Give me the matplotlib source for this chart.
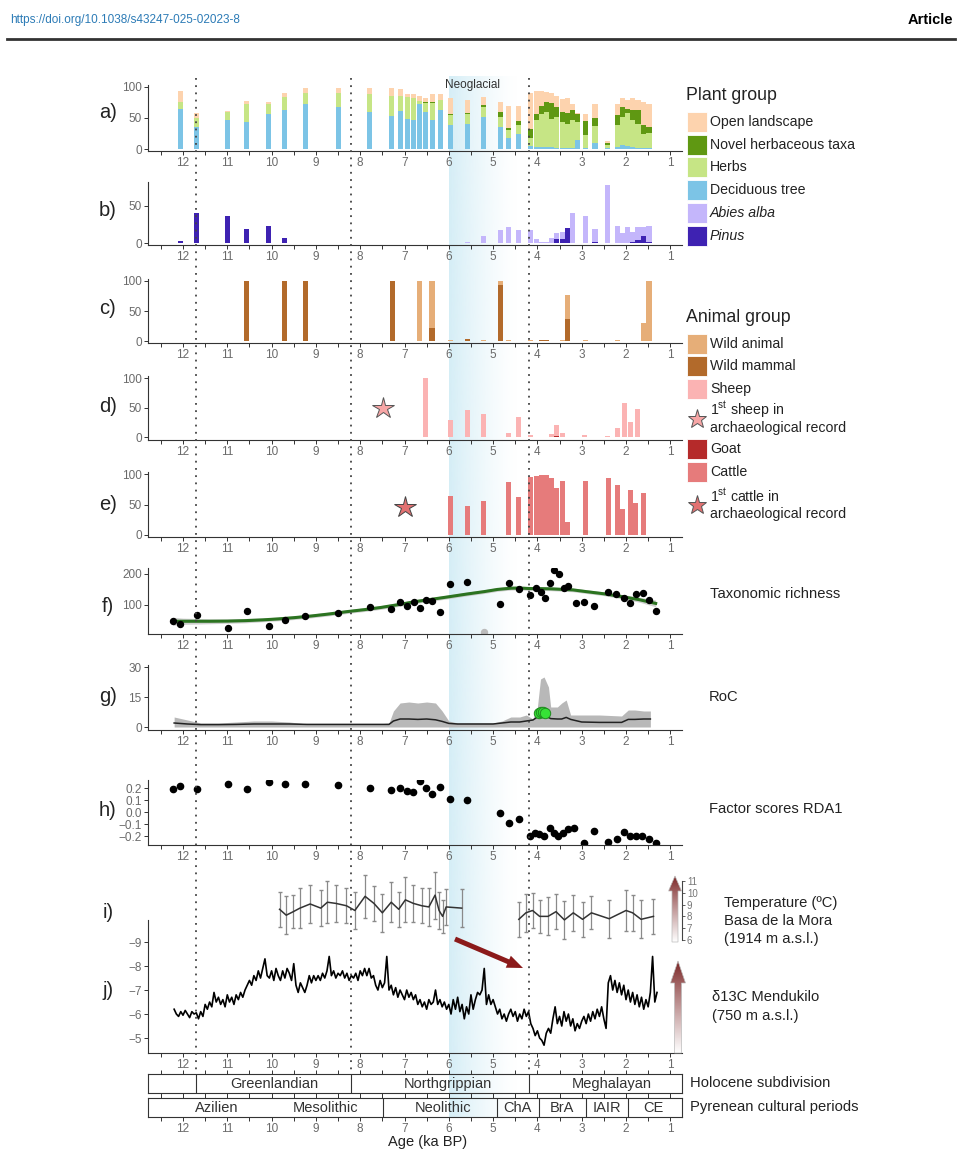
import numpy as np
import matplotlib
matplotlib.use("Agg")
import matplotlib.pyplot as plt
from matplotlib.patches import Rectangle, Polygon, FancyArrow
from matplotlib.colors import to_rgb

plt.rcParams['font.family'] = ['Liberation Sans', 'DejaVu Sans']
plt.rcParams['mathtext.fontset'] = 'custom'
plt.rcParams['mathtext.rm'] = 'Liberation Sans'

# ---------------- data ----------------
# a) plant groups (% of pollen sum), stacked
a_age = [12.06, 11.69, 10.99, 10.56, 10.06, 9.70, 9.24, 8.50, 7.78, 7.30,
         7.10, 6.94, 6.79, 6.66, 6.52, 6.37, 6.19, 5.97, 5.58, 5.21,
         4.84, 4.65, 4.42, 4.16, 4.03, 3.91, 3.79, 3.68, 3.56, 3.44,
         3.33, 3.21, 3.09, 2.92, 2.70, 2.41, 2.20, 2.08, 1.96, 1.85,
         1.73, 1.61, 1.48]
deciduous = [64, 36, 46, 43.5, 56, 63, 72, 67, 60, 53,
             61, 48, 47, 72, 60, 47, 63, 39, 40, 52,
             36, 18, 24, 5, 4, 4, 3, 3, 2, 2,
             2, 2, 14, 1, 10, 1, 4, 6, 5, 4,
             2, 2, 2]
herbs = [11, 13.5, 14, 28.5, 16, 21, 19, 24, 28, 32.5,
         24.5, 36, 35, 5, 14, 27, 16, 16, 17, 16,
         16, 12, 14.5, 13, 42, 52, 57, 45, 50, 42,
         39, 44, 30, 21, 27, 5, 35, 46, 52.5, 43,
         39, 22, 24]
novel = [0, 0, 0, 0, 0, 0, 0, 0, 0, 0,
         0, 0, 0, 0, 1, 1, 0, 1.5, 0.5, 3,
         7, 4, 7, 15, 11, 13, 15, 26, 16, 16,
         16.5, 17, 12, 23, 12.5, 3, 16, 15, 6.5, 16,
         22, 15, 10]
open_land = [19, 8, 1, 5, 4, 7, 8, 8, 10, 12.5,
             11.5, 5, 7, 8, 8, 13, 9, 26, 21, 13,
             17, 35, 23.5, 58, 37, 25, 17.5, 16, 17.5, 20,
             25.5, 10, 2, 12, 23.5, 4, 18, 16, 15, 19,
             16, 36, 37]

# b) conifers, same samples as a)
pinus = [3, 40, 37, 19, 23, 7, 0, 0, 0, 0,
         0, 0, 0, 0, 0, 0, 0, 0, 0, 0,
         0, 0, 0, 0, 0, 0, 0, 0, 5, 5,
         20, 0, 0, 0, 1, 0, 0, 0, 0, 1,
         4, 10, 2]
abies = [0, 0, 0, 0, 0, 0, 0, 0, 0, 0,
         0, 0, 0, 0, 0, 0, 0, 0, 2, 9,
         17, 21, 17, 17, 5, 2, 1, 7, 9, 10,
         0, 40, 0, 36, 18, 78, 23, 14, 21, 14,
         17, 11, 21]

# c) wild animals
c_age = [10.56, 9.70, 9.24, 7.28, 6.67, 6.38, 5.97, 5.58, 5.21, 4.84,
         4.65, 4.16, 3.91, 3.79, 3.44, 3.33, 2.92, 2.20, 1.61, 1.48]
wild_mammal = [100, 100, 100, 100, 0, 22, 0, 3, 0, 94,
               0, 0, 2, 2, 0, 37, 0, 0, 0, 0]
wild_animal = [0, 0, 0, 0, 100, 78, 2, 0, 1, 6,
               2, 2, 0, 0, 2, 40, 2, 2, 30, 100]

# d) sheep / goat
d_age = [6.52, 5.97, 5.58, 5.21, 4.65, 4.42, 4.16, 4.03, 3.68, 3.56,
         3.44, 2.94, 2.41, 2.20, 2.03, 1.89, 1.75]
sheep = [100, 30, 46, 40, 7, 34, 4.5, 1, 6, 20,
         7, 4.5, 3, 15, 58, 26, 47]
goat = [0, 0, 0, 0, 0, 0, 0, 0, 0, 1.5,
        0, 0, 0, 0, 0, 0, 0]
sheep_first = (7.49, 50)

# e) cattle
e_age = [5.97, 5.58, 5.21, 4.65, 4.42, 4.16, 4.03, 3.91, 3.79, 3.68,
         3.56, 3.44, 3.33, 2.92, 2.40, 2.20, 2.07, 1.89, 1.78, 1.61]
cattle = [64, 47, 56, 87, 63, 95, 97, 98, 99, 93,
          77, 89, 22, 88, 93, 82, 42, 74, 52, 69]
cattle_first = (7.0, 46)

# f) taxonomic richness
f_age = [12.23, 12.06, 11.69, 10.99, 10.56, 10.06, 9.70, 9.24, 8.50, 7.78,
         7.30, 7.10, 6.94, 6.79, 6.66, 6.52, 6.37, 6.19, 5.97, 5.58,
         4.84, 4.65, 4.42, 4.16, 4.04, 3.91, 3.83, 3.72, 3.62, 3.52,
         3.41, 3.30, 3.14, 2.95, 2.72, 2.41, 2.22, 2.04, 1.91, 1.78,
         1.62, 1.48, 1.33]
richness = [48, 39, 68, 27, 82, 33, 50, 66, 75, 95,
            86, 111, 98, 109, 91, 116, 113, 76, 167, 174,
            103, 170, 151, 131, 156, 143, 123, 170, 213, 199,
            156, 162, 105, 108, 98, 143, 136, 122, 105, 136,
            140, 116, 82]
richness_out = (5.21, 12)
smooth_age = [12.23, 12.0, 11.4, 11.0, 10.6, 10.2, 9.86, 9.5, 9.1, 8.7,
              8.3, 7.9, 7.53, 7.1, 6.75, 6.4, 5.97, 5.6, 5.2, 4.9,
              4.6, 4.4, 4.2, 3.7, 3.2, 2.9, 2.5, 2.1, 1.7, 1.33]
smooth_val = [47.5, 47.5, 47.5, 48, 49.5, 52, 55, 59, 64.5, 71,
              78.5, 85, 92, 102, 111, 118, 127, 135, 143, 150,
              154, 154.5, 153, 152, 148.5, 143, 136, 127, 117, 105]
smooth_se = [13, 10, 8, 7, 7, 6, 6, 6, 6, 6,
             6, 6, 6, 6, 6, 6, 6, 6, 6, 6,
             6, 6, 6, 6, 6, 6, 6, 7, 8, 11]

# g) rate of change
roc_age = [12.2, 11.9, 11.6, 11.2, 10.8, 10.4, 10.0, 9.6, 9.2, 8.8,
           8.4, 8.0, 7.6, 7.35, 7.25, 7.1, 6.9, 6.7, 6.5, 6.3,
           6.15, 6.0, 5.8, 5.4, 5.0, 4.8, 4.6, 4.4, 4.25, 4.1,
           4.0, 3.93, 3.85, 3.75, 3.7, 3.55, 3.45, 3.35, 3.25, 3.0,
           2.6, 2.1, 1.95, 1.8, 1.6, 1.45]
roc = [2, 1.5, 1.2, 1.2, 1.3, 1.5, 1.5, 1.5, 1.3, 1.3,
       1.3, 1.3, 1.3, 1.3, 3, 4, 4, 3.8, 4, 3.6,
       2.8, 1.8, 1.5, 1.5, 1.5, 2, 2.5, 2.5, 3, 3.5,
       5, 7.2, 7.2, 4.8, 4.2, 4, 4, 4.8, 3.8, 2.5,
       2.3, 2.3, 3.8, 3.8, 4, 4]
roc_hi = [5, 3.5, 2, 2, 2.5, 3, 3, 2.5, 1.5, 1.5,
          1.5, 1.5, 1.5, 2, 8, 12, 12.5, 12, 12.5, 12,
          8, 3, 2, 2, 2, 3, 5, 5, 6, 4,
          10, 24, 25, 20, 10, 10, 12, 13.5, 6, 6,
          6, 5.5, 8.5, 8.5, 8, 8]
roc_sig_age = [3.96, 3.91, 3.87, 3.83]
roc_sig = [7.0, 7.4, 7.5, 7.2]

# h) RDA1 factor scores
h_age = [12.23, 12.06, 11.69, 10.99, 10.56, 10.06, 9.70, 9.24, 8.50, 7.78,
         7.30, 7.10, 6.94, 6.81, 6.66, 6.52, 6.38, 6.19, 5.97, 5.58,
         4.84, 4.65, 4.42, 4.16, 4.05, 3.96, 3.84, 3.72, 3.62, 3.53,
         3.43, 3.30, 3.17, 2.95, 2.72, 2.41, 2.20, 2.04, 1.91, 1.77,
         1.64, 1.48, 1.33]
rda1 = [0.195, 0.214, 0.19, 0.233, 0.19, 0.247, 0.233, 0.233, 0.225, 0.2,
        0.183, 0.2, 0.178, 0.164, 0.256, 0.2, 0.147, 0.211, 0.108, 0.097,
        -0.008, -0.089, -0.056, -0.2, -0.178, -0.186, -0.197, -0.136, -0.172, -0.197,
        -0.172, -0.142, -0.136, -0.256, -0.158, -0.25, -0.222, -0.17, -0.2, -0.197,
        -0.197, -0.228, -0.256]

# i) temperature Basa de la Mora (two segments)
t_age1 = [9.82, 9.67, 9.51, 9.36, 9.13, 8.89, 8.74, 8.55, 8.31, 8.12,
          7.89, 7.69, 7.50, 7.30, 7.13, 6.98, 6.80, 6.61, 6.45, 6.31,
          6.22, 6.14, 6.06, 5.71]
temp1 = [8.6, 8.1, 8.4, 8.7, 9.05, 8.7, 9.2, 9.1, 8.9, 8.5,
         9.7, 9.1, 8.3, 9.2, 8.6, 9.4, 9.1, 8.9, 8.8, 9.8,
         8.5, 8.0, 8.8, 8.7]
err1 = [1.5, 1.6, 1.4, 1.7, 1.6, 1.5, 1.8, 1.6, 1.5, 1.6,
        1.8, 1.5, 1.6, 1.7, 1.5, 1.9, 1.6, 1.5, 1.6, 2.0,
        1.6, 1.4, 1.5, 1.6]
t_age2 = [4.42, 4.26, 4.11, 3.95, 3.76, 3.58, 3.39, 3.19, 2.98, 2.78,
          2.38, 2.00, 1.85, 1.66, 1.38]
temp2 = [7.75, 8.3, 8.5, 8.0, 8.0, 8.4, 7.7, 8.3, 7.75, 8.3,
         7.8, 8.5, 8.3, 7.75, 8.0]
err2 = [1.5, 1.6, 1.5, 1.4, 1.6, 1.5, 1.6, 1.5, 1.5, 1.4,
        1.6, 1.7, 1.5, 1.6, 1.5]

# j) d13C Mendukilo
j_age = [12.20, 12.15, 12.10, 12.05, 12.00, 11.95, 11.90, 11.85, 11.80, 11.75,
         11.70, 11.65, 11.60, 11.55, 11.50, 11.45, 11.40, 11.35, 11.30, 11.25,
         11.20, 11.15, 11.10, 11.05, 11.00, 10.95, 10.90, 10.85, 10.80, 10.75,
         10.70, 10.65, 10.60, 10.55, 10.50, 10.45, 10.40, 10.35, 10.30, 10.25,
         10.20, 10.15, 10.10, 10.05, 10.00, 9.95, 9.90, 9.85, 9.80, 9.75,
         9.70, 9.65, 9.60, 9.55, 9.50, 9.45, 9.40, 9.35, 9.30, 9.25,
         9.20, 9.15, 9.10, 9.05, 9.00, 8.95, 8.90, 8.85, 8.80, 8.75,
         8.70, 8.65, 8.60, 8.55, 8.50, 8.45, 8.40, 8.35, 8.30, 8.25,
         8.20, 8.15, 8.10, 8.05, 8.00, 7.95, 7.90, 7.85, 7.80, 7.75,
         7.70, 7.65, 7.60, 7.55, 7.50, 7.45, 7.40, 7.35, 7.30, 7.25,
         7.20, 7.15, 7.10, 7.05, 7.00, 6.95, 6.90, 6.85, 6.80, 6.75,
         6.70, 6.65, 6.60, 6.55, 6.50, 6.45, 6.40, 6.35, 6.30, 6.25,
         6.20, 6.15, 6.10, 6.05, 6.00, 5.95, 5.90, 5.85, 5.80, 5.75,
         5.70, 5.65, 5.60, 5.55, 5.50, 5.45, 5.40, 5.35, 5.30, 5.25,
         5.20, 5.15, 5.10, 5.05, 5.00, 4.95, 4.90, 4.85, 4.80, 4.75,
         4.70, 4.65, 4.60, 4.55, 4.50, 4.45, 4.40, 4.35, 4.30, 4.25,
         4.20, 4.15, 4.10, 4.05, 4.00, 3.95, 3.90, 3.85, 3.80, 3.75,
         3.70, 3.65, 3.60, 3.55, 3.50, 3.45, 3.40, 3.35, 3.30, 3.25,
         3.20, 3.15, 3.10, 3.05, 3.00, 2.95, 2.90, 2.85, 2.80, 2.75,
         2.70, 2.65, 2.60, 2.55, 2.50, 2.45, 2.40, 2.35, 2.30, 2.25,
         2.20, 2.15, 2.10, 2.05, 2.00, 1.95, 1.90, 1.85, 1.80, 1.75,
         1.70, 1.65, 1.60, 1.55, 1.50, 1.45, 1.40, 1.35, 1.30]
d13c = [-6.2, -6.0, -5.9, -6.1, -5.95, -6.15, -6.0, -5.85, -6.1, -6.0,
        -6.05, -5.8, -6.1, -5.9, -6.4, -6.2, -6.5, -6.3, -6.9, -6.5,
        -6.7, -6.4, -6.6, -6.3, -6.8, -6.5, -6.7, -6.4, -6.8, -6.6,
        -6.9, -6.7, -7.0, -7.2, -7.4, -7.2, -7.6, -7.4, -7.8, -7.5,
        -7.9, -8.3, -7.6, -7.5, -7.8, -7.4, -7.9, -7.6, -7.4, -7.8,
        -7.5, -7.9, -7.7, -7.4, -8.1, -7.2, -6.9, -7.3, -7.1, -6.9,
        -7.2, -7.6, -7.3, -7.6, -7.4, -7.6, -7.4, -7.7, -7.5, -7.8,
        -8.4, -7.6, -7.8, -7.5, -7.7, -7.6, -7.8, -7.5, -7.7, -7.4,
        -7.6, -7.5, -7.7, -7.4, -7.8, -7.6, -7.9, -7.6, -7.9, -7.5,
        -7.6, -7.2, -7.0, -7.4, -7.1, -7.3, -8.4, -7.0, -7.2, -6.8,
        -7.1, -6.7, -7.0, -6.8, -6.6, -7.0, -6.7, -6.9, -6.6, -6.8,
        -6.4, -6.6, -6.3, -6.5, -6.2, -6.6, -6.4, -6.5, -7.0, -6.4,
        -6.6, -6.3, -6.5, -6.2, -6.4, -6.0, -6.6, -6.2, -6.7, -6.1,
        -6.4, -5.8, -6.3, -6.0, -6.8, -6.2, -6.6, -6.9, -6.8, -7.0,
        -7.9, -6.4, -6.8, -6.4, -6.6, -6.3, -6.0, -6.2, -5.8, -6.0,
        -5.7, -6.0, -6.2, -5.9, -6.1, -5.7, -6.0, -5.8, -6.2, -5.9,
        -6.1, -5.6, -5.4, -5.1, -5.3, -5.0, -4.9, -4.7, -5.2, -5.4,
        -5.2, -5.8, -6.3, -5.6, -5.9, -5.5, -6.1, -5.7, -6.0, -5.5,
        -5.8, -5.3, -5.6, -5.4, -5.7, -5.9, -5.6, -6.0, -5.7, -6.1,
        -5.8, -6.2, -5.9, -6.3, -5.8, -5.4, -7.3, -7.6, -7.0, -7.4,
        -6.9, -7.3, -6.8, -7.2, -6.6, -7.0, -6.5, -6.9, -6.4, -6.8,
        -6.3, -6.7, -6.2, -6.6, -6.3, -6.9, -8.4, -6.5, -6.9]

# climate / cultural subdivisions
boundaries = [11.7, 8.2, 4.2]
neoglacial = (6.0, 4.45)
hol_names = ['Greenlandian', 'Northgrippian', 'Meghalayan']
hol_pos = [9.95, 6.03, 2.33]
cult_bounds = [7.49, 4.92, 3.96, 2.91, 1.96]
cult_names = ['Azilien', 'Mesolithic', 'Neolithic', 'ChA', 'BrA', 'IAIR', 'CE']
cult_pos = [11.23, 8.78, 6.14, 4.46, 3.45, 2.44, 1.38]

x_major = [12, 11, 10, 9, 8, 7, 6, 5, 4, 3, 2, 1]
x_minor = [12.5, 11.5, 10.5, 9.5, 8.5, 7.5, 6.5, 5.5, 4.5, 3.5, 2.5, 1.5]

# colours
C_OPEN, C_NOVEL, C_HERB, C_DEC = '#FDD3AE', '#5F9812', '#C6E585', '#7CC4E6'
C_ABIES, C_PINUS = '#C4B6FB', '#3E22B2'
C_WANIMAL, C_WMAMMAL = '#E6AE78', '#B26A2B'
C_SHEEP, C_GOAT, C_CATTLE = '#FBB3B3', '#B52A2A', '#E67B7B'
AX_C, LAB_C = '#333333', '#6A6A6A'
TICK_FS = 8.5

# ---------------- figure ----------------
W, H = 961, 1172
fig = plt.figure(figsize=(W / 100, H / 100), dpi=100)
X0, X1 = 148, 682
AGE_L, AGE_R = 12.79, 0.736
BW = 0.115


def panel(top, bottom, z=2):
    ax = fig.add_axes([X0 / W, 1 - bottom / H, (X1 - X0) / W, (bottom - top) / H], zorder=z)
    ax.set_facecolor('none')
    ax.set_xlim(AGE_L, AGE_R)
    return ax


def style(ax, ylim, yticks, ylabels, xlabels=True):
    ax.set_xlim(AGE_L, AGE_R)
    ax.set_ylim(*ylim)
    for s in ['top', 'right']:
        ax.spines[s].set_visible(False)
    for s in ['left', 'bottom']:
        ax.spines[s].set_color(AX_C)
        ax.spines[s].set_linewidth(0.8)
    ax.set_xticks(x_major)
    ax.set_xticks(x_minor, minor=True)
    ax.set_xticklabels([str(v) for v in x_major] if xlabels else [])
    ax.set_yticks(yticks)
    ax.set_yticklabels(ylabels)
    ax.tick_params(which='both', length=3, width=0.7, color=AX_C,
                   labelsize=TICK_FS, labelcolor=LAB_C, pad=1.5)


# background: Neoglacial shading
bg = fig.add_axes([X0 / W, 1 - 1120 / H, (X1 - X0) / W, 1050 / H], zorder=0)
bg.axis('off')
shade = np.zeros((1, 256, 4))
shade[..., :3] = to_rgb('#D3EDF6')
shade[..., 3] = 0.95 * np.linspace(1, 0, 256) ** 1.4
bg.imshow(shade, extent=[neoglacial[0], neoglacial[1], 1117, 76],
          aspect='auto', interpolation='bilinear')
bg.set_xlim(AGE_L, AGE_R)
bg.set_ylim(1120, 70)

# a)
ax = panel(85, 151)
b1 = np.array(deciduous)
b2 = b1 + np.array(herbs)
b3 = b2 + np.array(novel)
ax.bar(a_age, deciduous, width=BW, color=C_DEC, lw=0)
ax.bar(a_age, herbs, width=BW, bottom=b1, color=C_HERB, lw=0)
ax.bar(a_age, novel, width=BW, bottom=b2, color=C_NOVEL, lw=0)
ax.bar(a_age, open_land, width=BW, bottom=b3, color=C_OPEN, lw=0)
style(ax, (-3.2, 103.2), [0, 50, 100], ['0', '50', '100'])

# b)
ax = panel(182, 245)
ax.bar(a_age, pinus, width=BW, color=C_PINUS, lw=0)
ax.bar(a_age, abies, width=BW, bottom=pinus, color=C_ABIES, lw=0)
style(ax, (-2.7, 82.4), [0, 50], ['0', '50'])

# c)
ax = panel(279, 343)
ax.bar(c_age, wild_mammal, width=BW, color=C_WMAMMAL, lw=0)
ax.bar(c_age, wild_animal, width=BW, bottom=wild_mammal, color=C_WANIMAL, lw=0)
style(ax, (-3.3, 103.3), [0, 50, 100], ['0', '50', '100'])

# d)
ax = panel(376, 440)
ax.bar(d_age, goat, width=BW, color=C_GOAT, lw=0)
ax.bar(d_age, sheep, width=BW, bottom=goat, color=C_SHEEP, lw=0)
ax.plot(*sheep_first, marker='*', ms=16, mfc='#F7A6A6', mec='#555555', mew=0.7)
style(ax, (-4.5, 103.5), [0, 50, 100], ['0', '50', '100'])

# e)
ax = panel(472, 537)
ax.bar(e_age, cattle, width=BW, color=C_CATTLE, lw=0)
ax.plot(*cattle_first, marker='*', ms=16, mfc='#E27171', mec='#444444', mew=0.7)
style(ax, (-3.3, 103.3), [0, 50, 100], ['0', '50', '100'])

# f)
ax = panel(568, 634)
sv, se = np.array(smooth_val), np.array(smooth_se)
ax.fill_between(smooth_age, sv - se, sv + se, color='#C4C4C4', alpha=0.8, lw=0)
ax.plot(smooth_age, smooth_val, color='#2B7320', lw=2.2)
ax.plot(f_age, richness, 'o', color='black', ms=4.3)
ax.plot(*richness_out, 'o', color='#BBBBBB', ms=4.3)
style(ax, (6.5, 219), [100, 200], ['100', '200'])

# g)
ax = panel(665, 730)
ax.fill_between(roc_age, 0, roc_hi, color='#B8B8B8', lw=0)
ax.plot(roc_age, roc, color='#222222', lw=1.1)
ax.plot(roc_sig_age, roc_sig, 'o', ms=7.5, mfc='#36E236', mec='#1F8A1F', mew=0.7)
style(ax, (-1.5, 31), [0, 15, 30], ['0', '15', '30'])

# h)
ax = panel(780, 845)
ax.plot(h_age, rda1, 'o', color='black', ms=4.5)
style(ax, (-0.275, 0.267), [-0.2, -0.1, 0.0, 0.1, 0.2],
      ['\u22120.2', '\u22120.1', '0.0', '0.1', '0.2'])

# j)
ax_j = panel(920, 1053)
ax_j.plot(j_age, d13c, color='black', lw=1.2)
style(ax_j, (-4.375, -9.92), [-9, -8, -7, -6, -5],
      ['\u22129', '\u22128', '\u22127', '\u22126', '\u22125'])

# i) temperature, own little scale on the right
ax_i = panel(868, 950, z=3)
ax_i.set_ylim(5.15, 12.1)
for s in ['top', 'left', 'bottom']:
    ax_i.spines[s].set_visible(False)
ax_i.spines['right'].set_bounds(6, 11)
ax_i.spines['right'].set_color('#444444')
ax_i.spines['right'].set_linewidth(0.8)
ax_i.set_xticks([])
ax_i.yaxis.tick_right()
ax_i.set_yticks([6, 7, 8, 9, 10, 11])
ax_i.tick_params(axis='y', length=2.5, width=0.6, color='#444444',
                 labelsize=7, labelcolor='#777777', pad=1)
for ta, tv, te in [(t_age1, temp1, err1), (t_age2, temp2, err2)]:
    ax_i.errorbar(ta, tv, yerr=te, fmt='none', ecolor='#8A8A8A', elinewidth=0.9, capsize=1.2)
    ax_i.plot(ta, tv, color='#333333', lw=1.1)

# boxes: Holocene subdivision and cultural periods
for top, bottom, names, pos, bounds, lab in [
        (1074, 1093, hol_names, hol_pos, boundaries, False),
        (1098, 1117, cult_names, cult_pos, cult_bounds, True)]:
    bx = panel(top, bottom)
    bx.set_ylim(0, 1)
    for s in bx.spines.values():
        s.set_color(AX_C)
        s.set_linewidth(0.8)
    bx.set_yticks([])
    bx.set_xticks(x_major)
    bx.set_xticks(x_minor, minor=True)
    bx.set_xticklabels([str(v) for v in x_major] if lab else [])
    bx.tick_params(axis='x', which='both', top=True, bottom=True, length=3, width=0.7,
                   color=AX_C, labelsize=TICK_FS, labelcolor=LAB_C, pad=1.5)
    for b in bounds:
        bx.axvline(b, color=AX_C, lw=0.8)
    for n, p in zip(names, pos):
        bx.text(p, 0.47, n, ha='center', va='center', fontsize=10.5, color='#333333')

# dotted boundaries on top
fg = fig.add_axes([X0 / W, 1 - 1120 / H, (X1 - X0) / W, 1050 / H], zorder=5)
fg.axis('off')
fg.set_xlim(AGE_L, AGE_R)
fg.set_ylim(1120, 70)
fg.vlines(boundaries, 78, 1074, colors='#444444', lw=1.3, linestyles=(0, (1, 3)))

# overlay in pixel coordinates for annotations
ov = fig.add_axes([0, 0, 1, 1], zorder=6)
ov.axis('off')


def grad_arrow(x, y_tail, y_head, shaft, head, head_len):
    pts = [(x - shaft / 2, y_tail), (x - shaft / 2, y_head + head_len),
           (x - head / 2, y_head + head_len), (x, y_head),
           (x + head / 2, y_head + head_len), (x + shaft / 2, y_head + head_len),
           (x + shaft / 2, y_tail)]
    poly = Polygon(pts, closed=True, facecolor='none', edgecolor='#BBBBBB', lw=0.5, zorder=3)
    ov.add_patch(poly)
    t = np.linspace(0, 1, 200)[:, None] ** 0.9
    img = (1 - t) * np.array(to_rgb('#7A2424')) + t * np.ones(3)
    im = ov.imshow(img[:, None, :], extent=[x - head / 2, x + head / 2, y_tail, y_head],
                   aspect='auto', interpolation='bilinear', zorder=2)
    im.set_clip_path(poly)


grad_arrow(675, 942, 876, 6, 13, 15)
grad_arrow(678, 1053, 961, 7, 15, 22)
ov.add_patch(FancyArrow(455, 939, 68, 29, width=5, head_width=13, head_length=16,
                        length_includes_head=True, color='#8B1A1A', lw=0))

# header
ov.text(10, 20, 'https://doi.org/10.1038/s43247-025-02023-8', fontsize=8.5,
        color='#2C7BB6', va='center')
ov.text(953, 20, 'Article', fontsize=10.5, fontweight='bold', ha='right', va='center')
ov.plot([7, 955], [39, 39], color='#333333', lw=2)
ov.text(473, 85, 'Neoglacial', fontsize=8.5, ha='center', va='center', color='#333333')

# panel letters
for lab, y in zip(['a)', 'b)', 'c)', 'd)', 'e)', 'f)', 'g)', 'h)', 'i)', 'j)'],
                  [113, 211, 309, 407, 504, 606, 697, 811, 913, 990]):
    ov.text(108, y, lab, fontsize=14.5, ha='center', va='center', color='#222222')

# legends
ov.text(686, 95, 'Plant group', fontsize=12.8, va='center', color='#222222')
plant_items = [(C_OPEN, 'Open landscape', 'normal'), (C_NOVEL, 'Novel herbaceous taxa', 'normal'),
               (C_HERB, 'Herbs', 'normal'), (C_DEC, 'Deciduous tree', 'normal'),
               (C_ABIES, 'Abies alba', 'italic'), (C_PINUS, 'Pinus', 'italic')]
for k, (c, name, st) in enumerate(plant_items):
    y = 122 + 22.7 * k
    ov.add_patch(Rectangle((687, y - 10), 20, 20, facecolor=c, edgecolor='white', lw=0.6))
    ov.text(710, y, name, fontsize=10.2, style=st, va='center', color='#222222')

ov.text(686, 317, 'Animal group', fontsize=12.8, va='center', color='#222222')
animal_items = [(C_WANIMAL, 'Wild animal', 344), (C_WMAMMAL, 'Wild mammal', 366),
                (C_SHEEP, 'Sheep', 389), (C_GOAT, 'Goat', 449), (C_CATTLE, 'Cattle', 472)]
for c, name, y in animal_items:
    ov.add_patch(Rectangle((687, y - 10), 20, 20, facecolor=c, edgecolor='white', lw=0.6))
    ov.text(710, y, name, fontsize=10.2, va='center', color='#222222')
for mfc, kind, y in [('#F7A6A6', 'sheep', 410), ('#E27171', 'cattle', 496)]:
    ov.plot(697, y + 9, marker='*', ms=14, mfc=mfc, mec='#555555', mew=0.7)
    ov.text(710, y, r'1$^{\rm st}$ ' + kind + ' in', fontsize=10.2, va='center', color='#222222')
    ov.text(710, y + 18, 'archaeological record', fontsize=10.2, va='center', color='#222222')

# right-hand series labels
for txt, x, y in [('Taxonomic richness', 710, 594), ('RoC', 709, 697),
                  ('Factor scores RDA1', 709, 809), ('Temperature (\u00baC)', 724, 903),
                  ('Basa de la Mora', 724, 921), ('(1914 m a.s.l.)', 724, 939),
                  ('\u03b413C Mendukilo', 712, 997), ('(750 m a.s.l.)', 712, 1016),
                  ('Holocene subdivision', 690, 1083), ('Pyrenean cultural periods', 690, 1107)]:
    ov.text(x, y, txt, fontsize=10.6, va='center', color='#222222')

ov.text(428, 1142, 'Age (ka BP)', fontsize=10.5, ha='center', va='center', color='#222222')

ov.set_xlim(0, W)
ov.set_ylim(H, 0)

fig.savefig('out.png', dpi=100)
